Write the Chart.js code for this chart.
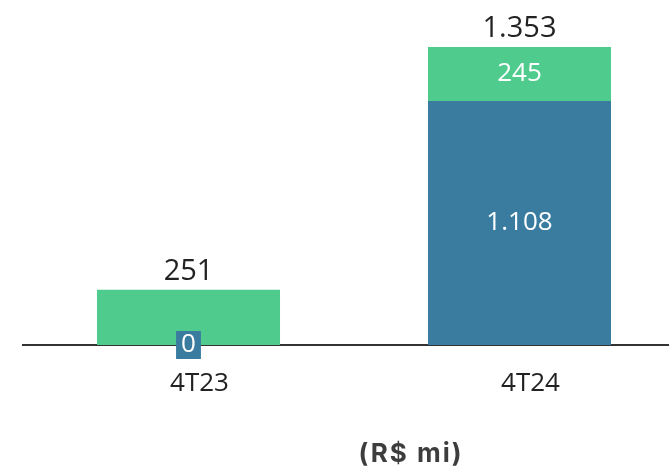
<!DOCTYPE html>
<html lang="pt-BR">
<head>
<meta charset="UTF-8">
<title>Resultado 4T24</title>
<script src="https://cdn.jsdelivr.net/npm/chart.js"></script>
<style>
  html, body { margin: 0; padding: 0; background: #fff; overflow: hidden; }
  .wrap { position: relative; width: 669px; height: 472px; overflow: hidden; }
  .chart-box { position: absolute; left: 0; top: 0; width: 701px; height: 472px; }
  .unidade {
    position: absolute; left: 311px; top: 437px; width: 200px;
    text-align: center; white-space: nowrap;
    font: 700 26px Inter, sans-serif; color: #3d3d3d; letter-spacing: 2px;
  }
</style>
</head>
<body>
<div class="wrap">
  <div class="chart-box"><canvas id="grafico"></canvas></div>
  <div class="unidade">(R$ mi)</div>
</div>

<script>
// dados (R$ mi)
const categorias = ['4T23', '4T24'];
const valoresBase = [0, 1108];
const valoresAdicional = [251, 245];

const AZUL = '#3a7ca0';
const VERDE = '#4fcb8d';
const FONTE = '"Open Sans", sans-serif';

// 1353 -> "1.353"
function fmt(n) {
    return String(n).replace(/\B(?=(\d{3})+(?!\d))/g, '.');
}

const totais = categorias.map((_, i) => valoresBase[i] + valoresAdicional[i]);

// rótulos dos segmentos e dos totais
const rotulos = {
    id: 'rotulos',
    afterDraw(chart) {
        const ctx = chart.ctx;
        ctx.save();
        ctx.textAlign = 'center';
        ctx.font = '26px ' + FONTE;

        chart.data.datasets.forEach((ds, di) => {
            const meta = chart.getDatasetMeta(di);
            meta.data.forEach((bar, i) => {
                const v = ds.data[i];
                const txt = fmt(v);
                if (v === 0) {
                    // valor zero: caixinha sobre o eixo
                    const w = ctx.measureText(txt).width + 10;
                    const h = 28;
                    ctx.fillStyle = ds.backgroundColor;
                    ctx.fillRect(bar.x - w / 2, bar.base - h / 2, w, h);
                    ctx.fillStyle = '#ffffff';
                    ctx.textBaseline = 'middle';
                    ctx.fillText(txt, bar.x, bar.base);
                } else if (v !== totais[i]) {
                    // segmento igual ao total já aparece no rótulo de cima
                    ctx.fillStyle = '#ffffff';
                    ctx.textBaseline = 'middle';
                    ctx.fillText(txt, bar.x, (bar.y + bar.base) / 2);
                }
            });
        });

        // totais acima das barras
        const topo = chart.getDatasetMeta(chart.data.datasets.length - 1);
        ctx.font = '29px ' + FONTE;
        ctx.fillStyle = '#222222';
        ctx.textBaseline = 'alphabetic';
        topo.data.forEach((bar, i) => {
            ctx.fillText(fmt(totais[i]), bar.x, bar.y - 10);
        });
        ctx.restore();
    }
};

new Chart(document.getElementById('grafico'), {
    type: 'bar',
    data: {
        labels: categorias,
        datasets: [
            { data: valoresBase, backgroundColor: AZUL },
            { data: valoresAdicional, backgroundColor: VERDE }
        ]
    },
    options: {
        responsive: true,
        maintainAspectRatio: false,
        animation: false,
        layout: { padding: { top: 47, left: 23, right: 16, bottom: 0 } },
        datasets: {
            bar: { barPercentage: 0.553, categoryPercentage: 1, borderWidth: 0 }
        },
        plugins: {
            legend: { display: false },
            tooltip: { enabled: false }
        },
        scales: {
            x: {
                stacked: true,
                z: 1,
                grid: { display: false },
                border: { display: true, color: '#333333', width: 2 },
                ticks: {
                    color: '#222222',
                    font: { family: FONTE, size: 26 },
                    padding: 15,
                    labelOffset: 11
                },
                afterFit(scale) { scale.height = 127; }
            },
            y: {
                stacked: true,
                display: false,
                min: 0,
                max: Math.max(...totais)
            }
        }
    },
    plugins: [rotulos]
});
</script>
</body>
</html>
